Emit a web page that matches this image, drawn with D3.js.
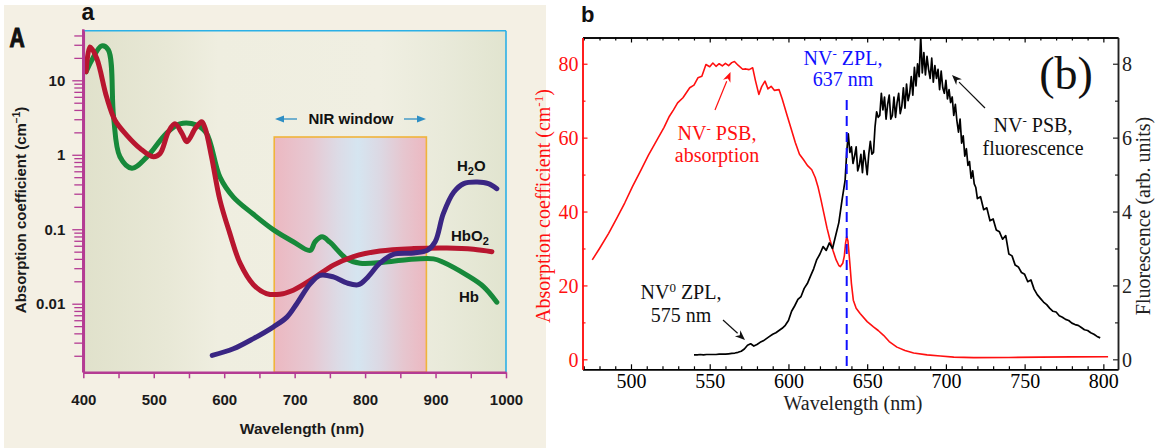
<!DOCTYPE html>
<html><head><meta charset="utf-8">
<script src="https://cdn.jsdelivr.net/npm/d3@7"></script>
<style>body{margin:0;background:#fff;} svg{display:block}</style>
</head><body>
<svg id="c" width="1156" height="448"></svg>
<script>
// ---------- Panel a data (absorption, log scale) ----------
const hbWl  = [404,412,426,435.5,443,452,469,490,518,537,561,575,594,613,641,670,698,722,729,739,750,774,793,826,859,897,911,945,968,987];
const hbVal = [13,18.6,29,25.6,3.2,0.94,0.66,0.93,1.94,2.6,2.5,1.94,0.5,0.27,0.16,0.098,0.068,0.052,0.068,0.079,0.067,0.04,0.035,0.036,0.039,0.040,0.036,0.024,0.017,0.0105];
const hbo2Wl  = [404,409.5,419,433,445,461.5,480.5,499.4,509,521,530,540,547,559,568,573,582,594,608,622.5,641.5,660,679,698,727,755,783.5,821,869,916,954,980];
const hbo2Val = [13,28,19.8,6.0,2.9,1.84,1.22,0.94,1.04,2.05,2.6,1.94,1.5,2.26,2.77,2.26,0.94,0.245,0.088,0.035,0.018,0.0137,0.0134,0.0152,0.022,0.033,0.043,0.051,0.055,0.056,0.054,0.050];
const h2oWl  = [583,613,641.5,670,689,703,722,736,755,774,790.6,802,821,840,869,888,899.5,911,926,940,959,975,987];
const h2oVal = [0.00202,0.00248,0.0034,0.0049,0.0066,0.01,0.0185,0.024,0.0229,0.019,0.018,0.0218,0.035,0.046,0.048,0.052,0.068,0.162,0.316,0.41,0.43,0.41,0.35];
const seriesNamesA = ["Hb","HbO2","H2O"];
const xTicksA = [400,500,600,700,800,900,1000];
const yTicksA = [10,1,0.1,0.01];
const yTickLabelsA = ["10","1","0.1","0.01"];
const nirWindow = [671,887];

// ---------- Panel b data ----------
const absWl  = [475.4,480,485.8,491,496,501,506.4,511,516.7,521,524.4,527,529.6,533,537.3,540,542.5,545,547.6,550,552,554,556,558,560,562,564,565.7,568,570.9,573,575,577.3,579,581.2,583,585.1,587,589,591,594,596,599.3,602,604.4,607,609.6,612,614.8,617,618.7,620.5,622.5,624.5,626.4,628.4,630.3,632,633,634.5,635.5,636.3,637,637.8,639,640,641.2,643,645.5,650,654,657,660.4,664,668.9,674,679.5,688,696.5,705,717.7,740,760,780,803];
const absVal = [26.9,30.0,34.1,38.2,42.3,46.8,51.3,55.2,59.5,62.8,65.8,67.5,69.4,70.8,73.5,74.2,76.2,76.6,79.8,79.2,80.2,79.3,80.0,79.4,80.1,79.5,80.3,80.6,79.6,78.5,78.6,78.4,78.9,75.5,71.7,73.8,75.3,73.2,73.9,72.8,73.0,70.5,65.8,62.0,58.6,55.5,54.0,52.5,51.3,49.2,46.8,43.5,39.5,35.5,32.3,29.3,26.9,25.4,25.1,26.0,28.0,31.5,33.2,32.0,26.0,20.5,16.0,13.8,12.4,10.2,8.8,7.8,6.5,4.8,3.3,2.4,1.7,1.2,0.9,0.6,0.45,0.5,0.6,0.65,0.7];
const fluWl = [540,542,544,546,548,550,552,554,556,558,560,562,564,566,568,570,572,574,576,578,580,582,584,586,588,590,592,594,596,598,600,602,604,606,608,610,612,614,616,618,620,622,624,626,628,630,632,634,636,637,638,639,
  640,641,642,643,644,645,646,647,648,649,650,651,652,653,654,655,656,657,658,659,660,661,662,663,664,665,666,667,668,669,670,671,672,673,674,675,676,677,678,679,680,681,682,683,684,685,686,687,688,689,690,691,692,693,694,695,696,697,698,699,700,701,702,703,704,705,706,707,708,709,710,711,712,713,714,715,716,717,718,719,720,
  722,724,726,728,730,732,734,736,738,740,742,744,746,748,750,752,754,756,758,760,762,764,766,768,770,772,774,776,778,780,782,784,786,788,790,792,794,796,798];
const fluVal = [0.12,0.12,0.13,0.12,0.13,0.13,0.13,0.13,0.14,0.14,0.14,0.15,0.16,0.17,0.19,0.22,0.28,0.38,0.42,0.36,0.40,0.46,0.50,0.56,0.62,0.68,0.72,0.78,0.84,0.92,1.05,1.30,1.45,1.62,1.70,1.92,2.05,2.25,2.45,2.70,2.85,3.05,2.95,3.15,3.00,3.35,3.70,4.30,4.85,5.60,6.10,5.60,
  5.75,5.30,5.50,5.75,5.10,5.25,5.55,5.05,5.65,5.35,5.00,5.55,5.90,5.55,5.60,6.30,6.70,6.55,6.60,7.20,6.75,7.10,6.50,6.90,7.15,6.50,6.60,7.10,6.55,6.95,7.20,6.65,6.85,7.35,6.80,7.45,7.00,7.20,7.65,7.15,7.90,7.40,8.00,7.65,8.75,7.75,8.30,7.70,8.20,7.85,7.60,8.15,7.50,7.95,7.60,7.85,7.30,7.80,7.35,7.20,7.55,7.05,7.30,6.95,7.10,6.60,6.90,6.45,6.15,6.50,5.85,6.05,5.50,5.70,5.25,5.35,4.90,5.10,4.75,4.65,4.35,
  4.40,4.05,4.10,3.75,3.80,3.50,3.45,3.25,3.35,2.85,2.80,2.55,2.50,2.35,2.30,2.10,2.15,1.90,1.75,1.65,1.55,1.48,1.38,1.30,1.28,1.18,1.14,1.08,1.05,0.98,0.94,0.92,0.86,0.80,0.78,0.72,0.68,0.62,0.58];
const zplWl = 637;
const xTicksB = [500,550,600,650,700,750,800];
const yTicksBLeft = [0,20,40,60,80];
const yTicksBRight = [0,2,4,6,8];

// ---------- drawing ----------
const svg = d3.select("#c");
const defs = svg.append("defs");
const SANS = "'Liberation Sans', Arial, Helvetica, sans-serif";
const SERIF = "'Liberation Serif', 'Times New Roman', serif";

// ===== Panel a =====
svg.append("rect").attr("x",4).attr("y",5).attr("width",542).attr("height",443).attr("fill","#f4f0e4");

const A = {l:83.3, r:506, t:30.7, b:372.3};
const xA = d3.scaleLinear().domain([400,1000]).range([A.l, A.r]);
const yA = d3.scaleLog().domain([Math.pow(10,-2.921), Math.pow(10,1.666)]).range([A.b, A.t]);

const gA = defs.append("linearGradient").attr("id","bgA");
[[0,"#e0e1cb"],[0.2,"#e8e8d6"],[0.32,"#efeee0"],[0.7,"#f0efe2"],[0.85,"#e9eada"],[1,"#e1e4cf"]]
  .forEach(([o,c]) => gA.append("stop").attr("offset",o).attr("stop-color",c));
svg.append("rect").attr("x",A.l).attr("y",A.t).attr("width",A.r-A.l).attr("height",A.b-A.t).attr("fill","url(#bgA)");

const gN = defs.append("linearGradient").attr("id","nir");
[[0,"#ecb8c1"],[0.25,"#e6c9d3"],[0.42,"#dcdbe6"],[0.55,"#d5e5f0"],[0.7,"#dcd8e3"],[0.85,"#e6c6cf"],[1,"#ecb8c1"]]
  .forEach(([o,c]) => gN.append("stop").attr("offset",o).attr("stop-color",c));
svg.append("rect").attr("x",xA(nirWindow[0])).attr("y",137).attr("width",xA(nirWindow[1])-xA(nirWindow[0])).attr("height",A.b-137)
  .attr("fill","url(#nir)").attr("stroke","#f0b43a").attr("stroke-width",1.6);

svg.append("line").attr("x1",A.l).attr("x2",A.r).attr("y1",A.t).attr("y2",A.t).attr("stroke","#2bb0e6").attr("stroke-width",1.6);
svg.append("line").attr("x1",A.r).attr("x2",A.r).attr("y1",A.t).attr("y2",A.b).attr("stroke","#2bb0e6").attr("stroke-width",1.6);

defs.append("clipPath").attr("id","clipA").append("rect").attr("x",A.l).attr("y",A.t-5).attr("width",A.r-A.l).attr("height",A.b-A.t+5);

const lineA = d3.line().x(d=>xA(d[0])).y(d=>yA(d[1])).curve(d3.curveCatmullRom.alpha(0.5));
const curvesA = [
  {wl:hbWl, v:hbVal, c:"#17893a"},
  {wl:hbo2Wl, v:hbo2Val, c:"#b8162f"},
  {wl:h2oWl, v:h2oVal, c:"#3a2683"}
];
const gCurvesA = svg.append("g").attr("clip-path","url(#clipA)");
curvesA.forEach(s => {
  gCurvesA.append("path").datum(s.wl.map((w,i)=>[w,s.v[i]]))
    .attr("d",lineA).attr("fill","none").attr("stroke",s.c).attr("stroke-width",5)
    .attr("stroke-linecap","round").attr("stroke-linejoin","round");
});

const MAG = "#b43b93";
const xAxisA = d3.axisBottom(xA).tickValues(d3.range(400,1001,50))
  .tickFormat(d => xTicksA.includes(d) ? String(d) : "").tickSize(6).tickSizeOuter(0).tickPadding(16);
const gxA = svg.append("g").attr("transform",`translate(0,${A.b})`).call(xAxisA);
gxA.select(".domain").attr("stroke",MAG).attr("stroke-width",2.5);
gxA.selectAll(".tick line").attr("stroke",MAG).attr("stroke-width",1.5);
gxA.selectAll("text").attr("font-family",SANS).attr("font-weight","bold").attr("font-size",15).attr("fill","#1a1a1a");

const yTickAll = [];
for (let e=-3; e<=1; e++) for (let m=1; m<=9; m++) {
  const v = m*Math.pow(10,e);
  if (v >= yA.domain()[0] && v <= yA.domain()[1]) yTickAll.push(v);
}
const labelFor = d => { const i = yTicksA.findIndex(t => Math.abs(t-d)/t < 1e-6); return i>=0 ? yTickLabelsA[i] : ""; };
const yAxisA = d3.axisLeft(yA).tickValues(yTickAll).tickFormat(labelFor).tickSize(10).tickSizeOuter(0).tickPadding(8);
const gyA = svg.append("g").attr("transform",`translate(${A.l},0)`).call(yAxisA);
gyA.select(".domain").attr("stroke",MAG).attr("stroke-width",2.5);
gyA.selectAll(".tick line").attr("stroke",MAG).attr("stroke-width",1.3)
  .attr("x2", d => labelFor(d) ? -11 : -9);
gyA.selectAll("text").attr("font-family",SANS).attr("font-weight","bold").attr("font-size",15).attr("fill","#1a1a1a");
svg.append("line").attr("x1",A.l).attr("x2",A.l).attr("y1",A.t-1.5).attr("y2",A.b).attr("stroke",MAG).attr("stroke-width",2.5);

svg.append("text").attr("x",302).attr("y",434).attr("text-anchor","middle")
  .attr("font-family",SANS).attr("font-weight","bold").attr("font-size",15.5).attr("fill","#1a1a1a").text("Wavelength (nm)");
const yl = svg.append("text").attr("transform","translate(26,210) rotate(-90)").attr("text-anchor","middle")
  .attr("font-family",SANS).attr("font-weight","bold").attr("font-size",15).attr("fill","#1a1a1a");
yl.append("tspan").text("Absorption coefficient (cm");
yl.append("tspan").attr("dy",-6).attr("font-size",10).text("−1");
yl.append("tspan").attr("dy",6).text(")");

svg.append("text").attr("transform","translate(9.5,47) scale(0.78,1)").attr("font-family",SANS).attr("font-weight","bold")
  .attr("font-size",27).attr("fill","#111").attr("stroke","#111").attr("stroke-width",1.1).text("A");
svg.append("text").attr("x",81.5).attr("y",20).attr("font-family",SANS).attr("font-weight","bold")
  .attr("font-size",23).attr("fill","#111").text("a");

svg.append("text").attr("x",351).attr("y",124).attr("text-anchor","middle")
  .attr("font-family",SANS).attr("font-weight","bold").attr("font-size",15).attr("fill","#111").text("NIR window");
const ARW = "#2e8ec4";
[[297,281,275],[404,420,426]].forEach(([x0,x1,tip]) => {
  svg.append("line").attr("x1",x0).attr("x2",x1).attr("y1",119).attr("y2",119).attr("stroke",ARW).attr("stroke-width",1.3);
  const dir = tip < x1 ? -1 : 1;
  svg.append("path").attr("d",`M${tip},119 L${tip-dir*9},115.5 L${tip-dir*9},122.5 Z`).attr("fill",ARW);
});

function subLabel(x,y,parts){
  const t = svg.append("text").attr("x",x).attr("y",y).attr("font-family",SANS).attr("font-weight","bold")
    .attr("font-size",15).attr("fill","#111");
  parts.forEach(p => {
    const s = t.append("tspan").text(p.t);
    if (p.sub) s.attr("font-size",11).attr("dy",4);
    if (p.back) s.attr("dy",-4);
  });
}
subLabel(457,171,[{t:"H"},{t:"2",sub:true},{t:"O",back:true}]);
subLabel(451,241,[{t:"HbO"},{t:"2",sub:true}]);
subLabel(459,302,[{t:"Hb"}]);

// ===== Panel b =====
const B = {l:582.5, r:1118, t:37.5, b:369.3};
const xB = d3.scaleLinear().domain([469.2,809.3]).range([B.l,B.r]);
const yL = d3.scaleLinear().domain([-2.7,87.1]).range([B.b,B.t]);
const yR = d3.scaleLinear().domain([-0.27,8.71]).range([B.b,B.t]);

defs.append("clipPath").attr("id","clipB").append("rect").attr("x",B.l).attr("y",B.t).attr("width",B.r-B.l).attr("height",B.b-B.t);

const RED = "#ff1010", BLUE = "#1010ff";
const gB = svg.append("g").attr("clip-path","url(#clipB)");
gB.append("path").datum(absWl.map((w,i)=>[w,absVal[i]]))
  .attr("d", d3.line().x(d=>xB(d[0])).y(d=>yL(d[1])))
  .attr("fill","none").attr("stroke",RED).attr("stroke-width",1.6).attr("stroke-linejoin","round");
gB.append("path").datum(fluWl.map((w,i)=>[w,fluVal[i]]))
  .attr("d", d3.line().x(d=>xB(d[0])).y(d=>yR(d[1])))
  .attr("fill","none").attr("stroke","#000").attr("stroke-width",1.7).attr("stroke-linejoin","round");
gB.append("line").attr("x1",xB(zplWl)).attr("x2",xB(zplWl)).attr("y1",100).attr("y2",B.b)
  .attr("stroke",BLUE).attr("stroke-width",2).attr("stroke-dasharray","10,6");

function styleAxis(g,color){
  g.select(".domain").attr("stroke",color).attr("stroke-width",1.5);
  g.selectAll(".tick line").attr("stroke",color).attr("stroke-width",1.2);
  g.selectAll("text").attr("font-family",SERIF).attr("font-size",20).attr("fill",color);
}
const minorX = d3.range(470,810,10).filter(d => !xTicksB.includes(d));
let g = svg.append("g").attr("transform",`translate(0,${B.b})`)
  .call(d3.axisBottom(xB).tickValues(minorX).tickFormat("").tickSizeInner(-3).tickSizeOuter(0));
styleAxis(g,"#000");
g = svg.append("g").attr("transform",`translate(0,${B.b})`)
  .call(d3.axisBottom(xB).tickValues(xTicksB).tickFormat(d3.format("d")).tickSizeInner(-5).tickSizeOuter(0).tickPadding(5));
styleAxis(g,"#000");
g = svg.append("g").attr("transform",`translate(0,${B.t})`)
  .call(d3.axisTop(xB).tickValues(minorX).tickFormat("").tickSizeInner(-3).tickSizeOuter(0));
styleAxis(g,"#000");
g = svg.append("g").attr("transform",`translate(0,${B.t})`)
  .call(d3.axisTop(xB).tickValues(xTicksB).tickFormat("").tickSizeInner(-5).tickSizeOuter(0));
styleAxis(g,"#000");
g = svg.append("g").attr("transform",`translate(${B.l},0)`)
  .call(d3.axisLeft(yL).tickValues([10,30,50,70]).tickFormat("").tickSizeInner(-3).tickSizeOuter(0));
styleAxis(g,RED);
g = svg.append("g").attr("transform",`translate(${B.l},0)`)
  .call(d3.axisLeft(yL).tickValues(yTicksBLeft).tickFormat(d3.format("d")).tickSizeInner(-5).tickSizeOuter(0).tickPadding(4));
styleAxis(g,RED);
g.selectAll("text").attr("dy","0.34em");
g = svg.append("g").attr("transform",`translate(${B.r},0)`)
  .call(d3.axisRight(yR).tickValues([1,3,5,7]).tickFormat("").tickSizeInner(-3).tickSizeOuter(0));
styleAxis(g,"#222");
g = svg.append("g").attr("transform",`translate(${B.r},0)`)
  .call(d3.axisRight(yR).tickValues(yTicksBRight).tickFormat(d3.format("d")).tickSizeInner(-5).tickSizeOuter(0).tickPadding(4));
styleAxis(g,"#222");
g.selectAll("text").attr("dy","0.34em");

svg.append("text").attr("x",853).attr("y",409.5).attr("text-anchor","middle").attr("font-family",SERIF)
  .attr("font-size",20).attr("fill","#222").text("Wavelength (nm)");
const ylb = svg.append("text").attr("transform","translate(550,206) rotate(-90)").attr("text-anchor","middle")
  .attr("font-family",SERIF).attr("font-size",20).attr("fill",RED);
ylb.append("tspan").text("Absorption coefficient (cm");
ylb.append("tspan").attr("dy",-7).attr("font-size",13).text("-1");
ylb.append("tspan").attr("dy",7).text(")");
svg.append("text").attr("transform","translate(1150,216) rotate(-90)").attr("text-anchor","middle")
  .attr("font-family",SERIF).attr("font-size",20).attr("fill","#222").text("Fluorescence (arb. units)");

svg.append("text").attr("x",581).attr("y",21.7).attr("font-family",SANS).attr("font-weight","bold")
  .attr("font-size",22).attr("fill","#111").text("b");
svg.append("text").attr("x",1066).attr("y",89).attr("text-anchor","middle").attr("font-family",SERIF)
  .attr("font-size",46).attr("fill","#111").text("(b)");

function serifLabel(x,y,color,parts){
  const t = svg.append("text").attr("x",x).attr("y",y).attr("text-anchor","middle").attr("font-family",SERIF)
    .attr("font-size",20).attr("fill",color);
  parts.forEach(p => {
    const s = t.append("tspan").text(p.t);
    if (p.sup) s.attr("font-size",13).attr("dy",-7);
    if (p.back) s.attr("dy",7);
  });
}
serifLabel(843,65,BLUE,[{t:"NV"},{t:"-",sup:true},{t:" ZPL,",back:true}]);
serifLabel(843,85.5,BLUE,[{t:"637 nm"}]);
serifLabel(717,140,RED,[{t:"NV"},{t:"-",sup:true},{t:" PSB,",back:true}]);
serifLabel(717,162,RED,[{t:"absorption"}]);
serifLabel(1033,131.5,"#111",[{t:"NV"},{t:"-",sup:true},{t:" PSB,",back:true}]);
serifLabel(1033,155,"#111",[{t:"fluorescence"}]);
serifLabel(681,299,"#111",[{t:"NV"},{t:"0",sup:true},{t:" ZPL,",back:true}]);
serifLabel(681,321.5,"#111",[{t:"575 nm"}]);

function arrow(x0,y0,x1,y1,color){
  const ang = Math.atan2(y1-y0,x1-x0), L=10, W=4;
  const bx = x1 - L*Math.cos(ang), by = y1 - L*Math.sin(ang);
  svg.append("line").attr("x1",x0).attr("y1",y0).attr("x2",bx).attr("y2",by).attr("stroke",color).attr("stroke-width",1.2);
  const px = -Math.sin(ang)*W, py = Math.cos(ang)*W;
  svg.append("path").attr("d",`M${x1},${y1} L${bx+px},${by+py} L${bx+3*Math.cos(ang)},${by+3*Math.sin(ang)} L${bx-px},${by-py} Z`).attr("fill",color);
}
arrow(985,108,952,75,"#111");
arrow(715,110,730.5,72,RED);
arrow(723,320,745,340,"#111");
</script>
</body></html>
